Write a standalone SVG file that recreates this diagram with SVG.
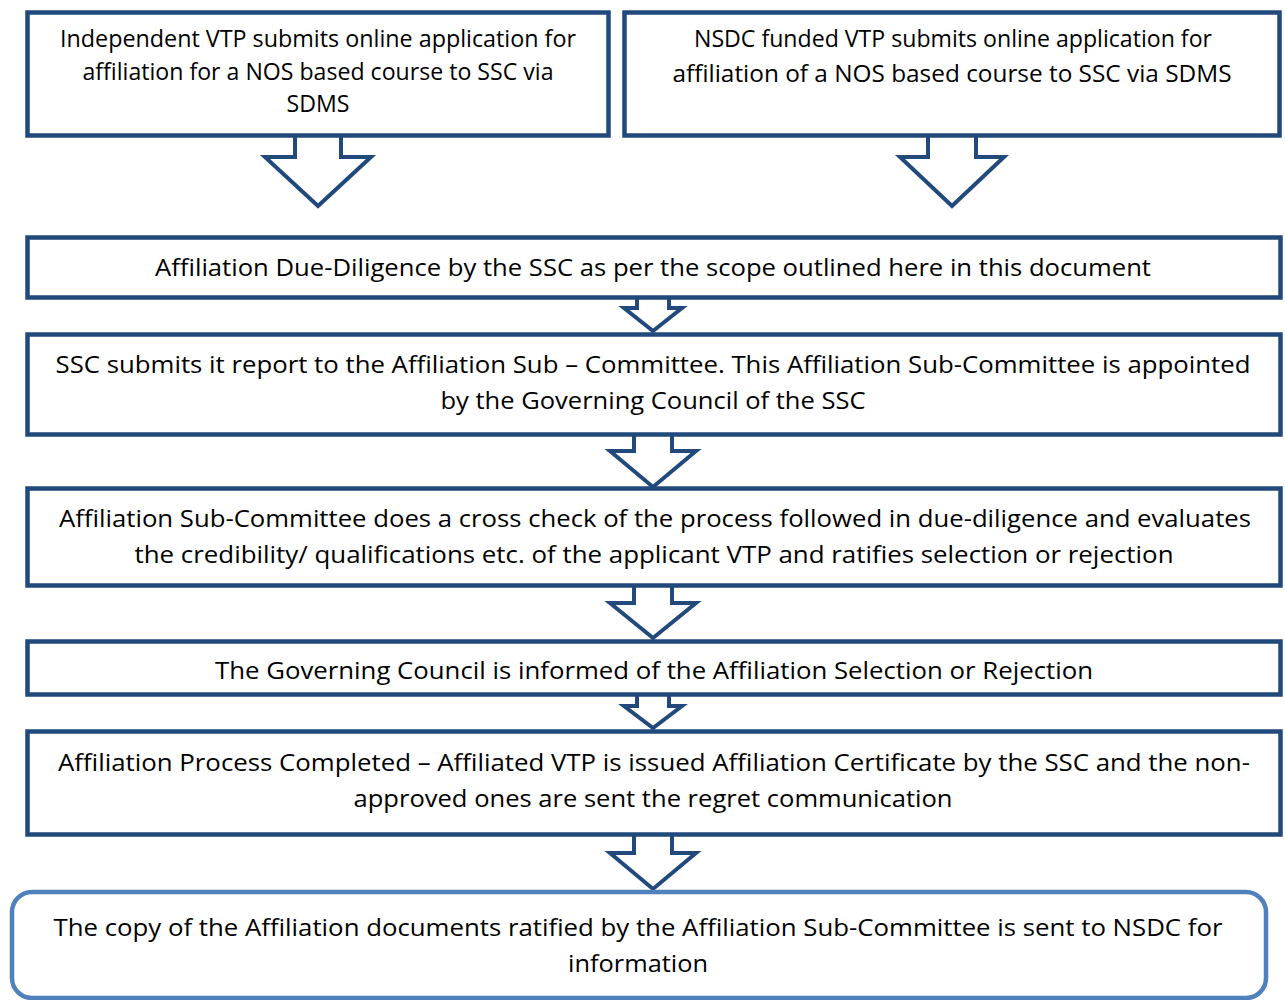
<svg xmlns="http://www.w3.org/2000/svg" width="1285" height="1000" viewBox="0 0 1285 1000">
<style>
.box{fill:#fff;stroke:#22497C;stroke-width:4.5}
.rbox{fill:#fff;stroke:#4F81BD;stroke-width:4.5}
.arr{fill:#fff;stroke:#22497C;stroke-width:4;stroke-linejoin:miter}
text{font-family:"Open Sans","Noto Sans",sans-serif;font-size:23px;fill:#000;text-anchor:middle}
</style>
<rect width="1285" height="1000" fill="#fff"/>
<g id="connectors">
<polygon class="arr" points="295,130 295,157 265,157 318,206 371,157 341,157 341,130"/>
<polygon class="arr" points="928,130 928,157 900,157 952,206 1004,157 976,157 976,130"/>
<polygon class="arr" points="637,295 637,308 624,308 653,331 682,308 669,308 669,295"/>
<polygon class="arr" points="634,430 634,451 610,451 653,487 696,451 672,451 672,430"/>
<polygon class="arr" points="634,582 634,603 610,603 653,638 696,603 672,603 672,582"/>
<polygon class="arr" points="637,690 637,706 624,706 653,728 682,706 669,706 669,690"/>
<polygon class="arr" points="634,830 634,853 610,853 653,889 696,853 672,853 672,830"/>
</g>
<g id="node1">
<rect class="box" x="27.5" y="12.5" width="581" height="123"/>
<text x="318" y="47" textLength="516" lengthAdjust="spacingAndGlyphs">Independent VTP submits online application for</text>
<text x="318" y="80" textLength="471" lengthAdjust="spacingAndGlyphs">affiliation for a NOS based course to SSC via</text>
<text x="318" y="112" textLength="63" lengthAdjust="spacingAndGlyphs">SDMS</text>
</g>
<g id="node2">
<rect class="box" x="624.5" y="12.5" width="655" height="123"/>
<text x="953" y="47" textLength="518" lengthAdjust="spacingAndGlyphs">NSDC funded VTP submits online application for</text>
<text x="952" y="82" textLength="559" lengthAdjust="spacingAndGlyphs">affiliation of a NOS based course to SSC via SDMS</text>
</g>
<g id="node3">
<rect class="box" x="27.5" y="237.5" width="1253" height="60"/>
<text x="653" y="276" textLength="996" lengthAdjust="spacingAndGlyphs">Affiliation Due-Diligence by the SSC as per the scope outlined here in this document</text>
</g>
<g id="node4">
<rect class="box" x="27.5" y="334.5" width="1253" height="100"/>
<text x="653" y="373" textLength="1195" lengthAdjust="spacingAndGlyphs">SSC submits it report to the Affiliation Sub – Committee. This Affiliation Sub-Committee is appointed</text>
<text x="653" y="409" textLength="425" lengthAdjust="spacingAndGlyphs">by the Governing Council of the SSC</text>
</g>
<g id="node5">
<rect class="box" x="27.5" y="488.5" width="1253" height="97"/>
<text x="655" y="527" textLength="1192" lengthAdjust="spacingAndGlyphs">Affiliation Sub-Committee does a cross check of the process followed in due-diligence and evaluates</text>
<text x="654" y="563" textLength="1039" lengthAdjust="spacingAndGlyphs">the credibility/ qualifications etc. of the applicant VTP and ratifies selection or rejection</text>
</g>
<g id="node6">
<rect class="box" x="27.5" y="641.5" width="1253" height="53"/>
<text x="654" y="679" textLength="878" lengthAdjust="spacingAndGlyphs">The Governing Council is informed of the Affiliation Selection or Rejection</text>
</g>
<g id="node7">
<rect class="box" x="27.5" y="731.5" width="1253" height="103"/>
<text x="654" y="771" textLength="1192" lengthAdjust="spacingAndGlyphs">Affiliation Process Completed – Affiliated VTP is issued Affiliation Certificate by the SSC and the non-</text>
<text x="653" y="807" textLength="599" lengthAdjust="spacingAndGlyphs">approved ones are sent the regret communication</text>
</g>
<g id="node8">
<rect class="rbox" x="12" y="892" width="1254" height="106" rx="20" ry="20"/>
<text x="638" y="936" textLength="1169" lengthAdjust="spacingAndGlyphs">The copy of the Affiliation documents ratified by the Affiliation Sub-Committee is sent to NSDC for</text>
<text x="638" y="972" textLength="140" lengthAdjust="spacingAndGlyphs">information</text>
</g>
</svg>
